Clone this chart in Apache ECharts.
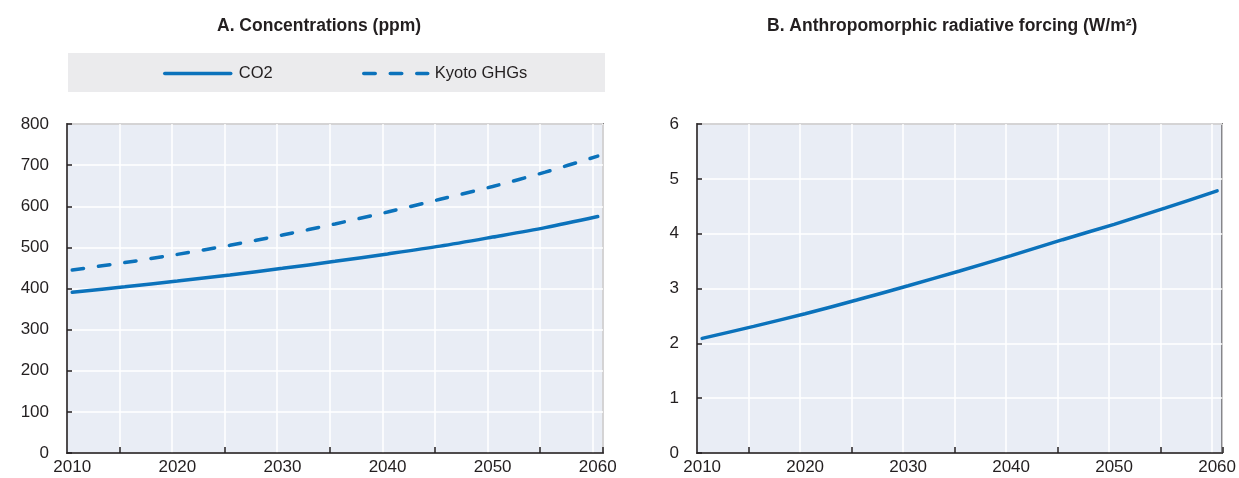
<!DOCTYPE html>
<html>
<head>
<meta charset="utf-8">
<script src="https://cdn.jsdelivr.net/npm/echarts@6/dist/echarts.min.js"></script>
<style>
  html, body { margin: 0; padding: 0; background: #ffffff; }
  #chart { width: 1239px; height: 478px; }
</style>
</head>
<body>
<div id="chart"></div>
<script>
// ---- Data (every 5 years; null = no reading) ----
const years = [];
for (let y = 2010; y <= 2060; y++) years.push(String(y));

const readYears = [2010, 2015, 2020, 2025, 2030, 2035, 2040, 2045, 2050, 2055, 2060];
const co2Read   = [391, 404, 418, 433, 449, 466, 484, 503, 525, 548, 575];
const kyotoRead = [445, 463, 483, 505, 530, 557, 586, 617, 648, 683, 722];
const forcingRead = [2.09, 2.31, 2.54, 2.79, 3.05, 3.32, 3.60, 3.89, 4.17, 4.47, 4.78];

const leftTicks = [0, 100, 200, 300, 400, 500, 600, 700, 800];
const rightTicks = [0, 1, 2, 3, 4, 5, 6];

function onYears(readings) {
  return years.map(y => {
    const i = readYears.indexOf(Number(y));
    return i >= 0 ? readings[i] : null;
  });
}

const FONT = "'Liberation Sans Narrow', 'Arial Narrow', 'Liberation Sans', Arial, sans-serif";
const TXT = '#231f20';
const BLUE = '#0b72bb';
const PLOT_BG = '#e9edf5';
const DASH = [11.5, 15];

function xAxis(gridIndex) {
  return {
    type: 'category', gridIndex, data: years, boundaryGap: true,
    axisLine: { show: true, lineStyle: { color: TXT, width: 1.5 } },
    axisTick: { show: true, inside: true, length: 6, interval: (i) => i % 10 === 5,
                lineStyle: { color: TXT, width: 1.5 } },
    axisLabel: { interval: (i) => i % 10 === 0, color: TXT, fontFamily: FONT, fontSize: 17, margin: 6 },
    splitLine: { show: true, interval: (i) => i % 5 === 0, lineStyle: { color: '#ffffff', width: 1.5 } }
  };
}
function yAxis(gridIndex, max, interval) {
  return {
    type: 'value', gridIndex, min: 0, max, interval,
    axisLine: { show: true, lineStyle: { color: TXT, width: 1.5 } },
    axisTick: { show: true, inside: true, length: 5, lineStyle: { color: TXT, width: 1.5 } },
    axisLabel: { color: TXT, fontFamily: FONT, fontSize: 17, margin: 18 },
    splitLine: { show: true, lineStyle: { color: '#ffffff', width: 1.5 } }
  };
}

const chart = echarts.init(document.getElementById('chart'), null, { renderer: 'canvas' });
chart.setOption({
  animation: false,
  backgroundColor: '#ffffff',
  title: [
    { text: 'A. Concentrations (ppm)', left: 217, top: 17, padding: 0,
      textStyle: { fontFamily: FONT, fontWeight: 'bold', fontSize: 17.5, color: TXT } },
    { text: 'B. Anthropomorphic radiative forcing (W/m²)', left: 767, top: 17, padding: 0,
      textStyle: { fontFamily: FONT, fontWeight: 'bold', fontSize: 17.5, color: TXT } }
  ],
  graphic: [
    { type: 'rect', left: 68, top: 53, z: -1, shape: { width: 537, height: 39 }, style: { fill: '#ebebed' } }
  ],
  legend: [
    { data: ['CO2'], left: 163, top: 65, padding: 0, itemWidth: 66, itemHeight: 14, itemGap: 10,
      itemStyle: { opacity: 0 },
      lineStyle: { width: 3.5, color: BLUE, cap: 'round' },
      textStyle: { fontFamily: FONT, fontSize: 16.5, color: TXT, padding: [0, 0, 0, 3] } },
    { data: ['Kyoto GHGs'], left: 362, top: 65, padding: 0, itemWidth: 64, itemHeight: 14, itemGap: 10,
      itemStyle: { opacity: 0 },
      lineStyle: { width: 3.5, color: BLUE, type: DASH, cap: 'round' },
      textStyle: { fontFamily: FONT, fontSize: 16.5, color: TXT, padding: [0, 0, 0, 2] } }
  ],
  grid: [
    { left: 67, top: 124, width: 536, height: 329, show: true, backgroundColor: PLOT_BG,
      borderColor: TXT, borderWidth: 1.5 },
    { left: 697, top: 124, width: 527, height: 329, show: true, backgroundColor: PLOT_BG,
      borderColor: TXT, borderWidth: 1.5 }
  ],
  xAxis: [xAxis(0), xAxis(1)],
  yAxis: [yAxis(0, leftTicks[leftTicks.length - 1], leftTicks[1] - leftTicks[0]),
          yAxis(1, rightTicks[rightTicks.length - 1], rightTicks[1] - rightTicks[0])],
  series: [
    { name: 'CO2', type: 'line', xAxisIndex: 0, yAxisIndex: 0, data: onYears(co2Read),
      connectNulls: true, smooth: 0.3, symbol: 'none',
      lineStyle: { color: BLUE, width: 3.5, cap: 'round' }, itemStyle: { color: BLUE } },
    { name: 'Kyoto GHGs', type: 'line', xAxisIndex: 0, yAxisIndex: 0, data: onYears(kyotoRead),
      connectNulls: true, smooth: 0.3, symbol: 'none',
      lineStyle: { color: BLUE, width: 3.5, type: DASH, cap: 'round' }, itemStyle: { color: BLUE } },
    { name: 'Radiative forcing', type: 'line', xAxisIndex: 1, yAxisIndex: 1, data: onYears(forcingRead),
      connectNulls: true, smooth: 0.3, symbol: 'none',
      lineStyle: { color: BLUE, width: 3.5, cap: 'round' }, itemStyle: { color: BLUE } }
  ]
});
</script>
</body>
</html>
